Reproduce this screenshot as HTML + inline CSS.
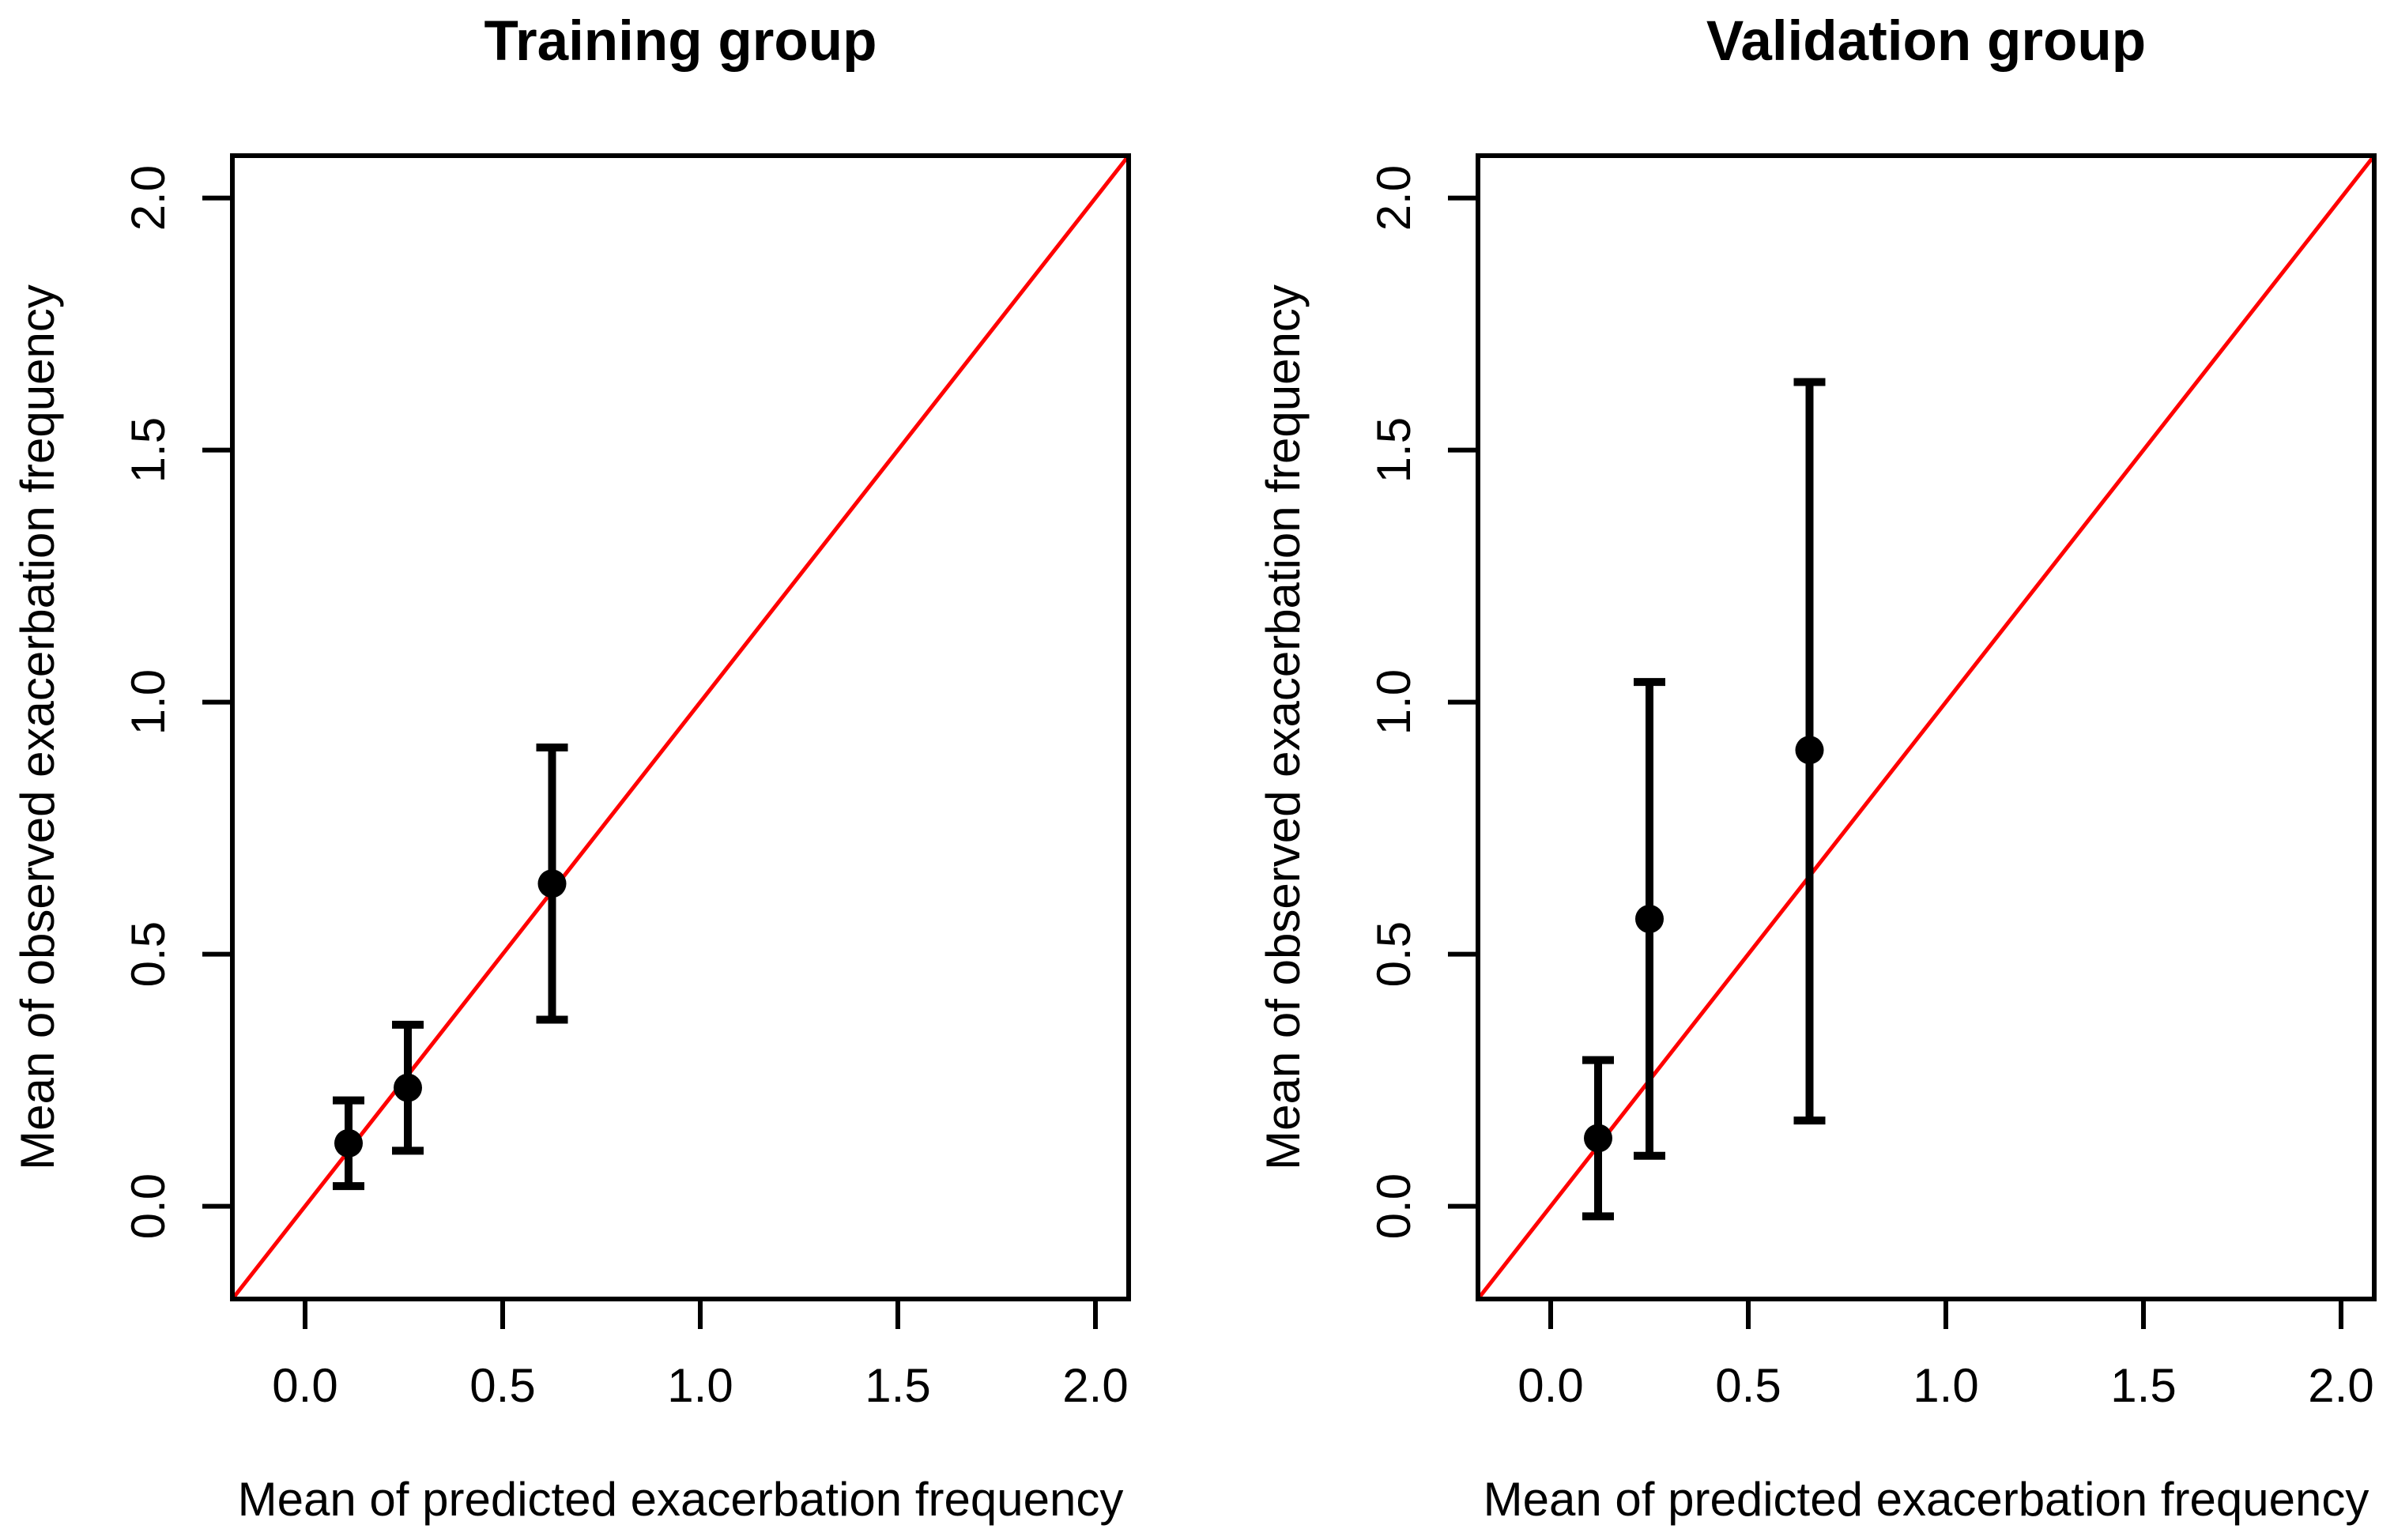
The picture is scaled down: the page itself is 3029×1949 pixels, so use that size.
<!DOCTYPE html>
<html><head><meta charset="utf-8"><style>
html,body{margin:0;padding:0;background:#fff}
svg{display:block}
text{font-family:"Liberation Sans",Arial,sans-serif;fill:#000}
</style></head><body>
<svg id="chart" width="3029" height="1949" viewBox="0 0 3029 1949" xmlns="http://www.w3.org/2000/svg"></svg>
<script>
const tickValues = [0.0, 0.5, 1.0, 1.5, 2.0];
const tickLabels = ["0.0", "0.5", "1.0", "1.5", "2.0"];
const panelTitles = ["Training group", "Validation group"];
const trainPred = [0.11, 0.26, 0.625];
const trainObs = [0.125, 0.235, 0.64];
const trainLow = [0.04, 0.11, 0.37];
const trainHigh = [0.21, 0.36, 0.91];
const validPred = [0.12, 0.25, 0.655];
const validObs = [0.135, 0.57, 0.905];
const validLow = [-0.02, 0.10, 0.17];
const validHigh = [0.29, 1.04, 1.635];

const NS = "http://www.w3.org/2000/svg";
const svgEl = document.getElementById('chart');
function mk(tag, attrs, parent) {
  const e = document.createElementNS(NS, tag);
  for (const k in attrs) e.setAttribute(k, attrs[k]);
  (parent || svgEl).appendChild(e);
  return e;
}
const axLim = [-0.184, 2.084];
const panels = [
  {x0: 294, pred: trainPred, obs: trainObs, lo: trainLow, hi: trainHigh, key: 'training'},
  {x0: 1870, pred: validPred, obs: validObs, lo: validLow, hi: validHigh, key: 'validation'}
];
const plotW = 1134, plotTop = 197, plotBottom = 1644;
panels.forEach((p, pi) => {
  const g = mk('g', {});
  
  
  const sx = v => p.x0 + (v - axLim[0]) / (axLim[1] - axLim[0]) * plotW;
  const sy = v => plotBottom - (v - axLim[0]) / (axLim[1] - axLim[0]) * (plotBottom - plotTop);
  const t = mk('text', {x: p.x0 + plotW / 2, y: 76, 'font-size': 71, 'font-weight': 'bold', 'text-anchor': 'middle'}, g);
  t.textContent = panelTitles[pi];
  
  
  const cp = mk('clipPath', {id: 'clip' + pi}, g);
  mk('rect', {x: p.x0, y: plotTop, width: plotW, height: plotBottom - plotTop}, cp);
  const rl = mk('line', {x1: sx(axLim[0]), y1: sy(axLim[0]), x2: sx(axLim[1]), y2: sy(axLim[1]), stroke: '#ff0000', 'stroke-width': 5, 'clip-path': 'url(#clip' + pi + ')'}, g);
  
  
  const box = mk('rect', {x: p.x0, y: plotTop, width: plotW, height: plotBottom - plotTop, fill: 'none', stroke: '#000', 'stroke-width': 6}, g);
  
  
  tickValues.forEach((v, i) => {
    const xt = mk('line', {x1: sx(v), x2: sx(v), y1: plotBottom, y2: plotBottom + 38, stroke: '#000', 'stroke-width': 6}, g);
    
    
    const xl = mk('text', {x: sx(v), y: 1774, 'font-size': 60, 'text-anchor': 'middle'}, g);
    xl.textContent = tickLabels[i];
    
    
    const yt = mk('line', {x1: p.x0 - 38, x2: p.x0, y1: sy(v), y2: sy(v), stroke: '#000', 'stroke-width': 6}, g);
    
    
    const yx = p.x0 - 86;
    const yl = mk('text', {x: yx, y: sy(v), 'font-size': 60, 'text-anchor': 'middle', transform: 'rotate(-90 ' + yx + ' ' + sy(v) + ')'}, g);
    yl.textContent = tickLabels[i];
    
    
  });
  const xtl = mk('text', {x: p.x0 + plotW / 2, y: 1918, 'font-size': 60, 'text-anchor': 'middle'}, g);
  xtl.textContent = 'Mean of predicted exacerbation frequency';
  
  
  const ax = p.x0 - 226, ay = (plotTop + plotBottom) / 2;
  const ytl = mk('text', {x: ax, y: ay, 'font-size': 60, 'text-anchor': 'middle', transform: 'rotate(-90 ' + ax + ' ' + ay + ')'}, g);
  ytl.textContent = 'Mean of observed exacerbation frequency';
  
  
  p.pred.forEach((x, i) => {
    const cx = sx(x);
    const eb = mk('path', {d: 'M' + cx + ' ' + sy(p.lo[i]) + 'V' + sy(p.hi[i]) + 'M' + (cx - 20) + ' ' + sy(p.hi[i]) + 'H' + (cx + 20) + 'M' + (cx - 20) + ' ' + sy(p.lo[i]) + 'H' + (cx + 20), stroke: '#000', 'stroke-width': 10, fill: 'none'}, g);
    
    
    const pt = mk('circle', {cx: cx, cy: sy(p.obs[i]), r: 18, fill: '#000'}, g);
    
    
  });
});
</script>
</body></html>
